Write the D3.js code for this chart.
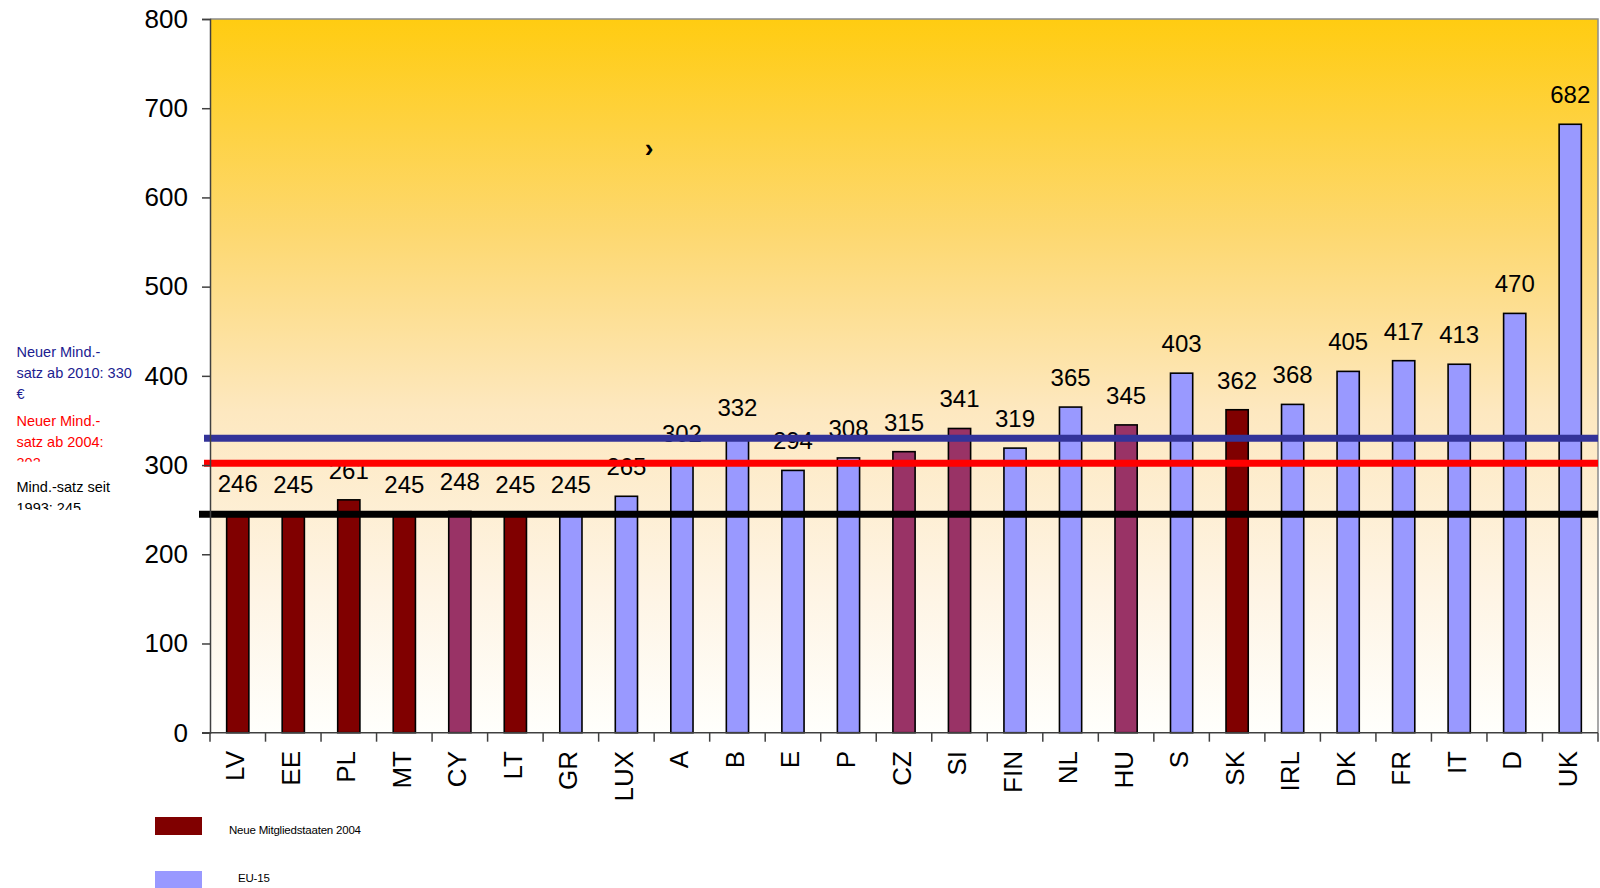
<!DOCTYPE html>
<html>
<head>
<meta charset="utf-8">
<script src="https://cdn.jsdelivr.net/npm/d3@7"></script>
<style>
  html, body { margin: 0; padding: 0; background: #ffffff; }
  svg { display: block; font-family: "Liberation Sans", Arial, sans-serif; }
</style>
</head>
<body>
<svg id="chart" width="1600" height="888"></svg>
<script>
// Countries, rates and membership group
const countries = ["LV","EE","PL","MT","CY","LT","GR","LUX","A","B","E","P","CZ","SI","FIN","NL","HU","S","SK","IRL","DK","FR","IT","D","UK"];
const rates     = [246, 245, 261, 245, 248, 245, 245, 265, 302, 332, 294, 308, 315, 341, 319, 365, 345, 403, 362, 368, 405, 417, 413, 470, 682];
const groups    = ["new","new","new","new","mid","new","eu15","eu15","eu15","eu15","eu15","eu15","mid","mid","eu15","eu15","mid","eu15","new","eu15","eu15","eu15","eu15","eu15","eu15"];

const yTicks = [0, 100, 200, 300, 400, 500, 600, 700, 800];

// Minimum rate reference levels and their notes
const levelValues = [330, 302, 245];
const levelColors = ["#333399", "#ff0000", "#000000"];
const levelNotes  = [
  ["Neuer Mind.-", "satz ab 2010: 330", "€"],
  ["Neuer Mind.-", "satz ab 2004:", "302"],
  ["Mind.-satz seit", "1993: 245"]
];
const noteColors = ["#202090", "#ff0000", "#000000"];

const legendLabels = ["Neue Mitgliedstaaten 2004", "EU-15"];
const legendKeys   = ["new", "eu15"];

const groupColor = { new: "#800000", mid: "#993366", eu15: "#9999ff" };

const svg = d3.select("#chart");
const plot = { left: 210, right: 1598, top: 19, bottom: 732.7 };

const x = d3.scaleBand()
  .domain(countries)
  .range([plot.left, plot.right])
  .paddingInner(0.6)
  .paddingOuter(0.3);

const y = d3.scaleLinear().domain([0, 800]).range([plot.bottom, plot.top]);

// Plot background gradient
const defs = svg.append("defs");
const grad = defs.append("linearGradient")
  .attr("id", "bg").attr("x1", 0).attr("y1", 0).attr("x2", 0).attr("y2", 1);
[["0%", "#ffcc11"], ["30%", "#fdd870"], ["55%", "#fde8c0"], ["80%", "#fef4e4"], ["100%", "#fffffc"]]
  .forEach(([o, c]) => grad.append("stop").attr("offset", o).attr("stop-color", c));

svg.append("rect")
  .attr("x", plot.left).attr("y", plot.top)
  .attr("width", plot.right - plot.left).attr("height", plot.bottom - plot.top)
  .attr("fill", "url(#bg)");

// Top and right frame
svg.append("path")
  .attr("d", `M${plot.left},${plot.top}H${plot.right}V${plot.bottom}`)
  .attr("fill", "none").attr("stroke", "#8c8c8c").attr("stroke-width", 1.5);

// Bars
svg.append("g").selectAll("rect")
  .data(countries)
  .join("rect")
  .attr("x", (d) => x(d))
  .attr("y", (d, i) => y(rates[i]))
  .attr("width", x.bandwidth())
  .attr("height", (d, i) => y(0) - y(rates[i]))
  .attr("fill", (d, i) => groupColor[groups[i]])
  .attr("stroke", "#000").attr("stroke-width", 1.6);

// Value labels
svg.append("g").selectAll("text")
  .data(countries)
  .join("text")
  .attr("x", (d) => x(d) + x.bandwidth() / 2)
  .attr("y", (d, i) => y(rates[i]) - 21)
  .attr("text-anchor", "middle")
  .attr("font-size", 24)
  .attr("fill", "#000")
  .text((d, i) => rates[i]);

// Reference level lines
const lineStart = [-6, -6, -11];
svg.append("g").selectAll("line")
  .data(levelValues)
  .join("line")
  .attr("x1", (d, i) => plot.left + lineStart[i])
  .attr("x2", plot.right)
  .attr("y1", (d) => y(d))
  .attr("y2", (d) => y(d))
  .attr("stroke", (d, i) => levelColors[i])
  .attr("stroke-width", 7);

// Y axis
const yAxis = svg.append("g")
  .attr("transform", `translate(${plot.left},0)`)
  .call(d3.axisLeft(y).tickValues(yTicks).tickSize(8).tickPadding(14).tickFormat(d3.format("d")));
yAxis.select(".domain").attr("stroke", "#404040").attr("stroke-width", 1.5);
yAxis.selectAll(".tick line").attr("stroke", "#404040").attr("stroke-width", 1.5);
yAxis.selectAll(".tick text")
  .attr("font-size", 26).attr("fill", "#000")
  .attr("font-family", "'Liberation Sans', Arial, sans-serif");

// X axis: baseline, boundary ticks and rotated labels
const xg = svg.append("g");
xg.append("line")
  .attr("x1", plot.left - 8).attr("x2", plot.right)
  .attr("y1", plot.bottom).attr("y2", plot.bottom)
  .attr("stroke", "#404040").attr("stroke-width", 1.5);
const bounds = countries.map((d) => x(d) - x.step() * x.paddingInner() / 2).concat([plot.right]);
xg.selectAll("line.b")
  .data(bounds)
  .join("line")
  .attr("class", "b")
  .attr("x1", (d) => d).attr("x2", (d) => d)
  .attr("y1", plot.bottom).attr("y2", plot.bottom + 9)
  .attr("stroke", "#404040").attr("stroke-width", 1.5);
xg.selectAll("text")
  .data(countries)
  .join("text")
  .attr("transform", (d) => `translate(${x(d) + x.bandwidth() / 2},751) rotate(-90)`)
  .attr("dy", "0.25em")
  .attr("text-anchor", "end")
  .attr("font-size", 26)
  .attr("fill", "#000")
  .text((d) => d);

// Notes on the left, each clipped to its box
const noteTop = [340, 409, 475];
const noteClipBottom = [400, 461.7, 510];
levelNotes.forEach((lines, i) => {
  defs.append("clipPath").attr("id", "clip" + i)
    .append("rect")
    .attr("x", 0).attr("y", noteTop[i])
    .attr("width", 150).attr("height", noteClipBottom[i] - noteTop[i]);
  const g = svg.append("g").attr("clip-path", `url(#clip${i})`);
  g.selectAll("text")
    .data(lines)
    .join("text")
    .attr("x", 16.5)
    .attr("y", (d, j) => noteTop[i] + 11.7 + j * 21.3)
    .attr("dy", "0.35em")
    .attr("font-size", 14.5)
    .attr("fill", noteColors[i])
    .text((d) => d);
});

// Legend
const legY = [817, 871];
const lg = svg.append("g");
lg.selectAll("rect")
  .data(legendKeys)
  .join("rect")
  .attr("x", 155).attr("y", (d, i) => legY[i])
  .attr("width", 47).attr("height", 18)
  .attr("fill", (d) => groupColor[d]);
const legTextX = [229, 238];
const legTextY = [830, 878];
lg.selectAll("text")
  .data(legendLabels)
  .join("text")
  .attr("x", (d, i) => legTextX[i])
  .attr("y", (d, i) => legTextY[i])
  .attr("dy", "0.35em")
  .attr("font-size", 11.5)
  .attr("letter-spacing", -0.2)
  .attr("fill", "#000")
  .text((d) => d);

// Small stray glyph in the plot area
svg.append("text")
  .attr("x", 649).attr("y", 148)
  .attr("dy", "0.35em")
  .attr("text-anchor", "middle")
  .attr("font-size", 26).attr("font-weight", "bold")
  .text("›");
</script>
</body>
</html>
